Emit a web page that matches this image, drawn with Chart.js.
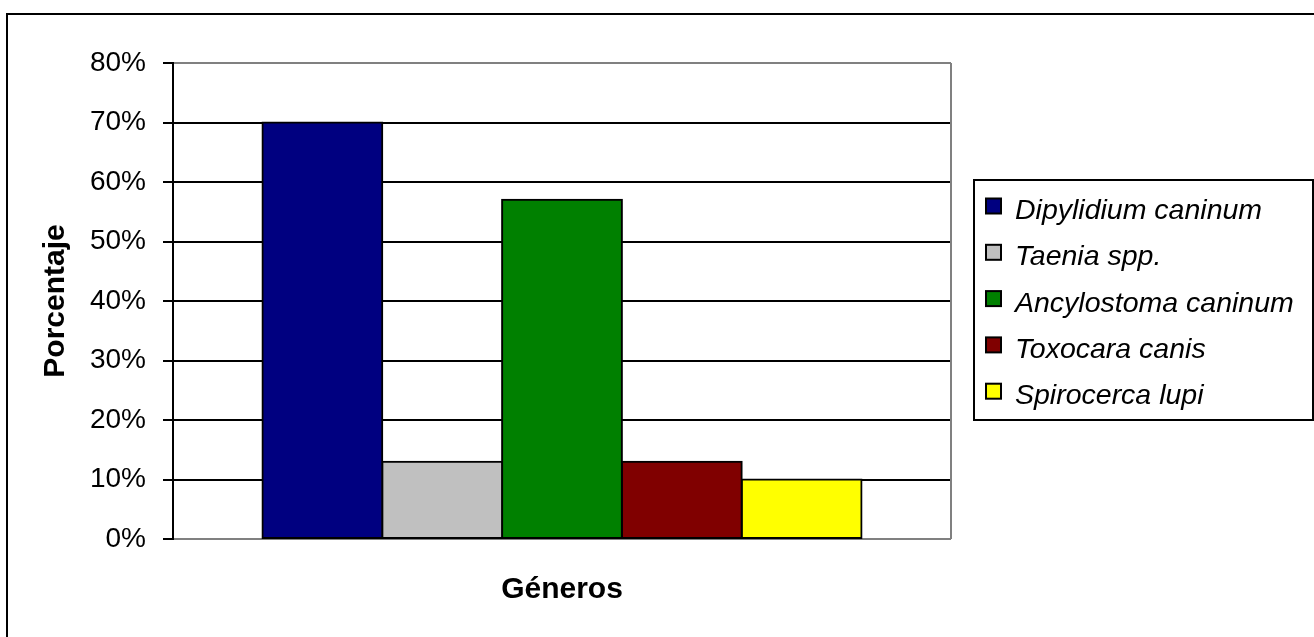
<!DOCTYPE html>
<html>
<head>
<meta charset="utf-8">
<script src="https://cdn.jsdelivr.net/npm/chart.js@4/dist/chart.umd.min.js"></script>
<style>
  html, body { margin: 0; padding: 0; background: #ffffff; }
  #wrap { width: 1314px; height: 637px; position: relative; }
</style>
</head>
<body>
<div id="wrap"><canvas id="c" width="1314" height="637"></canvas></div>
<script>
// Prevalence of parasite genera (fraction of samples)
const categories = [''];
const seriesNames = ['Dipylidium caninum', 'Taenia spp.', 'Ancylostoma caninum', 'Toxocara canis', 'Spirocerca lupi'];
const seriesValues = [0.70, 0.13, 0.57, 0.13, 0.10];
const seriesColors = ['#000080', '#C0C0C0', '#008000', '#800000', '#FFFF00'];
const yTickLabels = ['0%', '10%', '20%', '30%', '40%', '50%', '60%', '70%', '80%'];

const FONT = "'Liberation Sans', Arial, sans-serif";

// Outer frame of the whole chart
const framePlugin = {
  id: 'frame',
  afterDraw(chart) {
    const ctx = chart.ctx;
    ctx.save();
    ctx.strokeStyle = '#000000';
    ctx.lineWidth = 2;
    ctx.strokeRect(7, 14, 1400, 700);
    ctx.restore();
  }
};

// Grey right edge of the plot area
const plotEdgePlugin = {
  id: 'plotEdge',
  beforeDatasetsDraw(chart) {
    const { ctx, chartArea } = chart;
    ctx.save();
    ctx.strokeStyle = '#808080';
    ctx.lineWidth = 2;
    ctx.beginPath();
    ctx.moveTo(chartArea.right, chartArea.top);
    ctx.lineTo(chartArea.right, chartArea.bottom);
    ctx.stroke();
    ctx.restore();
  }
};

// Boxed legend to the right of the plot
const boxLegendPlugin = {
  id: 'boxLegend',
  afterDraw(chart) {
    const ctx = chart.ctx;
    const box = { left: 974, top: 180, right: 1313, bottom: 420 };
    ctx.save();
    ctx.strokeStyle = '#000000';
    ctx.lineWidth = 2;
    ctx.strokeRect(box.left, box.top, box.right - box.left, box.bottom - box.top);
    ctx.font = "italic 28.5px " + FONT;
    ctx.textBaseline = 'alphabetic';
    ctx.textAlign = 'left';
    const firstCenter = 209, step = 46.3;
    chart.data.datasets.forEach((ds, i) => {
      const cy = firstCenter + i * step;
      ctx.fillStyle = ds.backgroundColor;
      ctx.fillRect(986, cy - 10.5, 15, 15);
      ctx.strokeStyle = '#000000';
      ctx.lineWidth = 2;
      ctx.strokeRect(986, cy - 10.5, 15, 15);
      ctx.fillStyle = '#000000';
      ctx.fillText(ds.label, 1015, cy + 10);
    });
    ctx.restore();
  }
};

const datasets = seriesNames.map((name, i) => ({
  label: name,
  data: [seriesValues[i]],
  backgroundColor: seriesColors[i],
  borderColor: '#000000',
  borderWidth: 2,
  borderSkipped: false,
  inflateAmount: 1,
  categoryPercentage: 0.77,
  barPercentage: 1.0
}));

new Chart(document.getElementById('c'), {
  type: 'bar',
  data: { labels: categories, datasets },
  options: {
    responsive: false,
    animation: false,
    layout: { padding: { left: 0, top: 63, right: 363, bottom: 0 } },
    plugins: {
      legend: { display: false },
      tooltip: { enabled: false }
    },
    scales: {
      x: {
        grid: { display: false },
        border: { display: false },
        ticks: { display: false },
        afterFit(scale) { scale.height = 98; },
        title: {
          display: true,
          text: 'Géneros',
          color: '#000000',
          font: { family: FONT, size: 30, weight: 'bold' },
          padding: { top: 0, bottom: 29 }
        }
      },
      y: {
        min: 0,
        max: 0.8,
        afterFit(scale) { scale.width = 173; },
        afterBuildTicks(scale) {
          scale.ticks = yTickLabels.map((_, i) => ({ value: i / 10 }));
        },
        ticks: {
          color: '#000000',
          padding: 17,
          font: { family: FONT, size: 28 },
          callback: (value, index) => yTickLabels[index]
        },
        grid: {
          color: (c) => (c.tick && (c.index === 0 || c.index === yTickLabels.length - 1)) ? '#808080' : '#000000',
          lineWidth: 2,
          drawTicks: true,
          tickLength: 10,
          tickColor: '#000000',
          tickWidth: 2
        },
        border: { display: true, color: '#000000', width: 2 },
        title: {
          display: true,
          text: 'Porcentaje',
          color: '#000000',
          font: { family: FONT, size: 30, weight: 'bold' },
          padding: { top: 38, bottom: 0 }
        }
      }
    }
  },
  plugins: [plotEdgePlugin, boxLegendPlugin, framePlugin]
});
</script>
</body>
</html>
